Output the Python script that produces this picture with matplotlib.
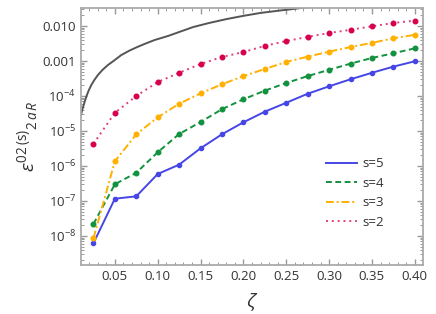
import numpy as np
import matplotlib
matplotlib.use("Agg")
import matplotlib.pyplot as plt
from matplotlib.ticker import FixedLocator, FixedFormatter, MultipleLocator, LogLocator, NullFormatter

plt.rcParams['font.family'] = ['Open Sans', 'DejaVu Sans']
plt.rcParams['mathtext.fontset'] = 'custom'
plt.rcParams['mathtext.rm'] = 'Open Sans'
plt.rcParams['mathtext.it'] = 'Open Sans:italic'

# data
zeta = [0.025, 0.05, 0.075, 0.1, 0.125, 0.15, 0.175, 0.2,
        0.225, 0.25, 0.275, 0.3, 0.325, 0.35, 0.375, 0.4]
s5 = [6.2e-9, 1.16e-7, 1.36e-7, 5.9e-7, 1.09e-6, 3.2e-6, 8.05e-6, 1.77e-5,
      3.56e-5, 6.4e-5, 1.16e-4, 1.89e-4, 3.0e-4, 4.6e-4, 6.9e-4, 9.8e-4]
s4 = [2.2e-8, 3.0e-7, 6.4e-7, 2.46e-6, 8.2e-6, 1.8e-5, 4.2e-5, 8.05e-5,
      1.42e-4, 2.35e-4, 3.7e-4, 5.6e-4, 8.4e-4, 1.22e-3, 1.66e-3, 2.3e-3]
s3 = [8.6e-9, 1.36e-6, 8.0e-6, 2.46e-5, 6.0e-5, 1.19e-4, 2.16e-4, 3.7e-4,
      5.9e-4, 9.4e-4, 1.33e-3, 1.85e-3, 2.5e-3, 3.3e-3, 4.45e-3, 5.6e-3]
s2 = [4.3e-6, 3.3e-5, 1.0e-4, 2.5e-4, 4.6e-4, 8.2e-4, 1.3e-3, 1.8e-3,
      2.7e-3, 3.7e-3, 4.9e-3, 6.3e-3, 7.8e-3, 9.8e-3, 1.22e-2, 1.42e-2]

# grey reference curve
bound_x = [0.0106, 0.0118, 0.0133, 0.0148, 0.0168, 0.019, 0.0225, 0.026,
           0.0303, 0.036, 0.042, 0.05, 0.0575, 0.067, 0.077, 0.0865,
           0.0965, 0.112, 0.127, 0.1415, 0.16, 0.1805, 0.2, 0.2194,
           0.24, 0.2582, 0.2695, 0.29]
bound_y = [2.9e-5, 3.9e-5, 5.2e-5, 6.9e-5, 9.7e-5, 1.35e-4, 2.06e-4, 2.85e-4,
           4.0e-4, 5.7e-4, 7.7e-4, 1.07e-3, 1.48e-3, 1.98e-3, 2.56e-3, 3.2e-3,
           3.98e-3, 5.18e-3, 7.0e-3, 9.35e-3, 1.22e-2, 1.58e-2, 1.95e-2, 2.35e-2,
           2.72e-2, 3.06e-2, 3.33e-2, 3.9e-2]

ytick_vals = [1e-2, 1e-3, 1e-4, 1e-5, 1e-6, 1e-7, 1e-8]
ytick_labels = ['0.010', '0.001', r'$10^{-4}$', r'$10^{-5}$', r'$10^{-6}$',
                r'$10^{-7}$', r'$10^{-8}$']

fig = plt.figure(figsize=(4.36, 3.14), dpi=100)
ax = fig.add_axes([0.1858, 0.156, 0.7844, 0.8185])

ax.plot(bound_x, bound_y, color='#555555', lw=1.4)
ax.plot(zeta, s5, color='#4646e6', lw=1.4, ls='-', marker='o', ms=3, label='s=5')
ax.plot(zeta, s4, color='#12923e', lw=1.4, ls=(0, (3, 1.8)), marker='o', ms=3.3, label='s=4')
ax.plot(zeta, s3, color='#ffb000', lw=1.4, ls=(0, (4, 1.5, 1, 1.5)), marker='o', ms=3.3, label='s=3')
ax.plot(zeta, s2, color='#e0407a', lw=1.4, ls=(0, (1, 2)), marker='o', ms=3.3,
        mfc='#d6004f', mec='#d6004f', label='s=2')

ax.set_yscale('log')
ax.set_xlim(0.0105, 0.4096)
ax.set_ylim(10**-8.83, 10**-1.486)

ax.yaxis.set_major_locator(FixedLocator(ytick_vals))
ax.yaxis.set_major_formatter(FixedFormatter(ytick_labels))
ax.yaxis.set_minor_locator(LogLocator(base=10, subs=np.arange(2, 10)))
ax.yaxis.set_minor_formatter(NullFormatter())
ax.xaxis.set_major_locator(MultipleLocator(0.05))
ax.xaxis.set_minor_locator(MultipleLocator(0.01))
ax.xaxis.set_major_formatter(matplotlib.ticker.FormatStrFormatter('%.2f'))

ax.tick_params(which='both', direction='in', top=True, right=True,
               color='#999999', labelcolor='#333333', labelsize=9.5)
ax.tick_params(which='major', length=4, width=1)
ax.tick_params(which='minor', length=2.2, width=0.7)
for sp in ax.spines.values():
    sp.set_color('#aaaaaa')
    sp.set_linewidth(1.3)

ax.set_xlabel(r'$\zeta$', fontsize=14, color='#333333', labelpad=6)
ax.set_ylabel(r'$\epsilon^{02\,(\mathrm{s})}{}_{2\,a\,R}$', fontsize=14,
              color='#333333', labelpad=2)

leg = ax.legend(loc='center left', bbox_to_anchor=(0.716, 0.28), frameon=False,
                borderpad=0, borderaxespad=0, fontsize=9.5, handlelength=2.35,
                labelspacing=0.5, handletextpad=0.45)
for h in leg.get_lines():
    h.set_marker('')
for t in leg.get_texts():
    t.set_color('#333333')

plt.savefig('out.png', dpi=100)
